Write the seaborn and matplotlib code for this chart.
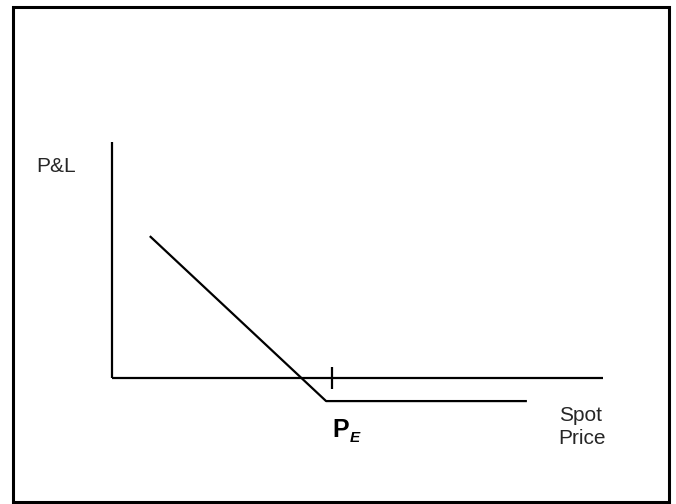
import matplotlib
matplotlib.use('Agg')
import matplotlib.pyplot as plt
import seaborn as sns
import pandas as pd
from matplotlib.patches import Rectangle

# payoff diagram data (arbitrary units, origin = where the axes cross)
spot_price = [7.7, 43.6, 84.5]
pnl = [28.9, -4.7, -4.7]
pe_level = 44.8
x_axis_end = 100
y_axis_top = 48
tick_half = 2.2

axis_labels = ["P&L", "Spot", "Price"]
pe_main = "P"
pe_sub = "E"

W, H = 676, 504
PX_PER_UNIT = 4.91
ORIGIN = (112, 378)  # pixel position of (0, 0), measured from top-left


def fx(px):
    return px / W


def fy(py):
    return 1 - py / H


sns.set_style('white')
plt.rcParams['font.family'] = ['Liberation Sans', 'DejaVu Sans']

fig = plt.figure(figsize=(W / 100, H / 100), dpi=100)
ax = fig.add_axes([0, 0, 1, 1])
ax.set_xlim(-ORIGIN[0] / PX_PER_UNIT, (W - ORIGIN[0]) / PX_PER_UNIT)
ax.set_ylim(-(H - ORIGIN[1]) / PX_PER_UNIT, ORIGIN[1] / PX_PER_UNIT)
ax.axis('off')

# axes lines
ax.plot([0, 0], [0, y_axis_top], color='black', lw=1.6, solid_capstyle='butt')
ax.plot([0, x_axis_end], [0, 0], color='black', lw=1.6, solid_capstyle='butt')
ax.plot([pe_level, pe_level], [-tick_half, tick_half], color='black', lw=1.6,
        solid_capstyle='butt')

df = pd.DataFrame({'spot': spot_price, 'pnl': pnl})
sns.lineplot(data=df, x='spot', y='pnl', sort=False, color='black', lw=1.6, ax=ax)
ax.lines[-1].set_solid_capstyle('butt')

txt = '#262626'
fig.text(fx(36), fy(172), axis_labels[0], fontsize=15, color=txt, va='baseline', ha='left')
fig.text(fx(559), fy(421), axis_labels[1], fontsize=15, color=txt, va='baseline', ha='left')
fig.text(fx(558), fy(444), axis_labels[2], fontsize=15, color=txt, va='baseline', ha='left')
fig.text(fx(332), fy(437), pe_main, fontsize=18, fontweight='bold', color='black',
         va='baseline', ha='left')
fig.text(fx(350), fy(442), pe_sub, fontsize=11, fontweight='bold', fontstyle='italic',
         color='black', va='baseline', ha='left')

fig.add_artist(Rectangle((fx(13), fy(502)), (669 - 13) / W, (502 - 7) / H,
                         transform=fig.transFigure, fill=False, lw=2.2, ec='black'))

fig.savefig('out.png', dpi=100)
